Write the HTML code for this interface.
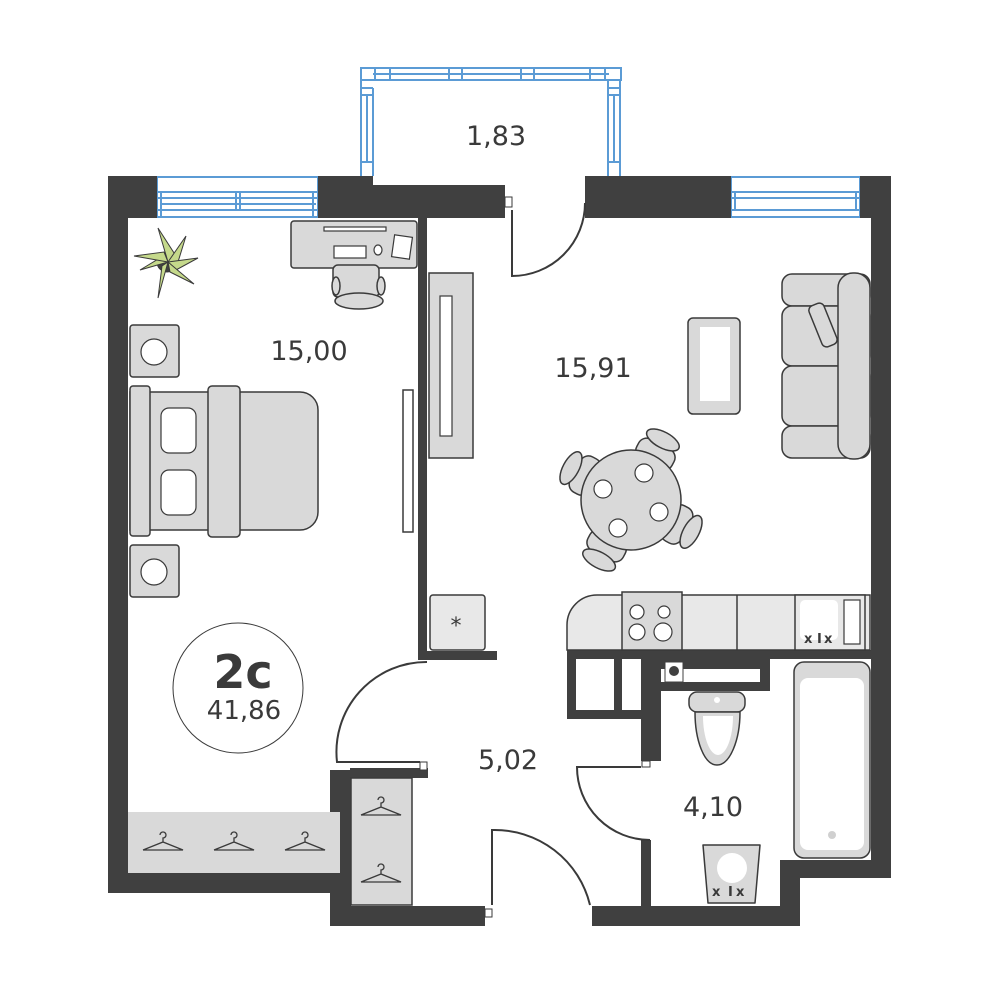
<!DOCTYPE html><html><head><meta charset="utf-8"><style>html,body{margin:0;padding:0;background:#fff}svg{display:block}text{font-family:"DejaVu Sans","Liberation Sans",sans-serif;fill:#3a3a3a}</style></head><body>
<svg width="1000" height="1000" viewBox="0 0 1000 1000" xmlns="http://www.w3.org/2000/svg">
<g fill="none" stroke="#5b9bd5" stroke-width="2">
<rect x="361" y="68" width="260" height="12"/><line x1="373" y1="74" x2="609" y2="74"/><line x1="373" y1="80" x2="609" y2="80"/>
<line x1="375" y1="68" x2="375" y2="80"/><line x1="390" y1="68" x2="390" y2="80"/><line x1="449" y1="68" x2="449" y2="80"/><line x1="462" y1="68" x2="462" y2="80"/><line x1="521" y1="68" x2="521" y2="80"/><line x1="534" y1="68" x2="534" y2="80"/><line x1="590" y1="68" x2="590" y2="80"/><line x1="605" y1="68" x2="605" y2="80"/>
<path d="M361 80V176M373 88V176M608 80V176M620 80V176M361 88H373M361 95H373M608 88H620M608 95H620M367 95V162M614 95V162M361 162H373M608 162H620"/>
<rect x="157" y="177" width="161" height="40"/><path d="M157 192H318M157 198H318M160 204H316M157 210H318M161 192V217M236 192V210M240 192V210M313 192V217"/>
<rect x="731" y="177" width="129" height="40"/><path d="M731 192H860M731 198H860M731 210H860M735 192V210M856 192V210"/>
</g>
<g fill="#404040">
<rect x="108" y="176" width="49" height="42"/><rect x="108" y="176" width="20" height="717"/><rect x="318" y="176" width="55" height="42"/><rect x="373" y="185" width="132" height="33"/>
<rect x="585" y="176" width="146" height="42"/><rect x="860" y="176" width="31" height="42"/><rect x="871" y="176" width="20" height="702"/>
<rect x="108" y="873" width="242" height="20"/><rect x="330" y="770" width="21" height="156"/><rect x="330" y="906" width="155" height="20"/><rect x="350" y="768" width="78" height="10"/>
<rect x="418" y="218" width="9" height="442"/><rect x="427" y="651" width="70" height="9"/>
<rect x="592" y="906" width="208" height="20"/><rect x="780" y="860" width="20" height="66"/><rect x="780" y="860" width="111" height="18"/>
<rect x="567" y="650" width="304" height="9"/><rect x="567" y="659" width="9" height="60"/><rect x="567" y="710" width="75" height="9"/><rect x="614" y="659" width="8" height="60"/>
<rect x="641" y="659" width="20" height="102"/><rect x="641" y="840" width="10" height="66"/><rect x="660" y="659" width="110" height="10"/><rect x="760" y="659" width="10" height="32"/><rect x="660" y="682" width="110" height="9"/>
</g>
<rect x="665" y="662" width="18" height="20" fill="#fff" stroke="#404040"/><circle cx="674" cy="671" r="5" fill="#404040"/><rect x="685" y="669" width="75" height="13" fill="#fff"/>
<g fill="none" stroke="#3a3a3a" stroke-width="2">
<path d="M512 210V276A73 73 0 0 0 585 203"/>
<path d="M420 762H337A90 90 0 0 1 427 662"/>
<path d="M492 905V830A98 98 0 0 1 590 905"/>
<path d="M641 767H577A73 73 0 0 0 650 840"/>
</g>
<rect x="505" y="197" width="7" height="10" fill="#fff" stroke="#3a3a3a"/><rect x="420" y="762" width="7" height="8" fill="#fff" stroke="#3a3a3a"/><rect x="485" y="909" width="7" height="8" fill="#fff" stroke="#3a3a3a"/><rect x="642" y="761" width="8" height="6" fill="#fff" stroke="#3a3a3a"/>
<g stroke="#3a3a3a" stroke-width="1.5" fill="#d9d9d9">
<rect x="291" y="221" width="126" height="47" rx="3"/><rect x="333" y="265" width="46" height="32" rx="5"/><ellipse cx="336" cy="286" rx="4" ry="9"/><ellipse cx="381" cy="286" rx="4" ry="9"/><ellipse cx="359" cy="301" rx="24" ry="8"/>
<rect x="130" y="325" width="49" height="52" rx="3"/><rect x="130" y="545" width="49" height="52" rx="3"/>
<path d="M130 392H300a18 18 0 0 1 18 18V512a18 18 0 0 1-18 18H130Z"/><rect x="130" y="386" width="20" height="150" rx="3"/><rect x="208" y="386" width="32" height="151" rx="4"/>
<rect x="429" y="273" width="44" height="185"/><rect x="403" y="390" width="10" height="142" fill="#fff"/>
<rect x="688" y="318" width="52" height="96" rx="5"/>
<rect x="782" y="274" width="88" height="32" rx="10"/><rect x="782" y="306" width="88" height="60" rx="10"/><rect x="782" y="366" width="88" height="60" rx="10"/><rect x="782" y="426" width="88" height="32" rx="10"/><rect x="838" y="273" width="32" height="186" rx="15"/>
<rect x="815" y="303" width="16" height="44" rx="5" transform="rotate(-22 823 325)"/>
<g transform="rotate(28 631 500)">
<rect x="611" y="437" width="40" height="22" rx="9"/><ellipse cx="631" cy="432" rx="18" ry="8"/>
<rect x="611" y="541" width="40" height="22" rx="9"/><ellipse cx="631" cy="568" rx="18" ry="8"/>
<rect x="568" y="480" width="22" height="40" rx="9"/><ellipse cx="563" cy="500" rx="8" ry="18"/>
<rect x="672" y="480" width="22" height="40" rx="9"/><ellipse cx="699" cy="500" rx="8" ry="18"/>
</g>
<circle cx="631" cy="500" r="50"/>
<rect x="430" y="595" width="55" height="55" rx="3" fill="#e8e8e8"/>
<rect x="128" y="812" width="212" height="61" stroke="none"/><rect x="351" y="778" width="61" height="127"/>
<path d="M567 650V625a30 30 0 0 1 30-30H870V650Z" fill="#e8e8e8"/><rect x="622" y="592" width="60" height="58"/><path d="M737 595V650" fill="none"/><rect x="795" y="595" width="70" height="55" fill="#e8e8e8"/>
<rect x="794" y="662" width="76" height="196" rx="10" fill="#d9d9d9"/>
<rect x="689" y="692" width="56" height="20" rx="8"/><path d="M695 712H740C740 740 730 765 717 765S695 740 695 712Z"/>
<path d="M703 845H760L755 903H708Z" stroke-linejoin="round"/>
</g>
<g fill="#fff" stroke="#3a3a3a" stroke-width="1.2">
<rect x="324" y="227" width="62" height="4"/><rect x="334" y="246" width="32" height="12"/><ellipse cx="378" cy="250" rx="4" ry="5"/><rect x="393" y="236" width="18" height="22" transform="rotate(8 402 247)"/>
<circle cx="154" cy="352" r="13"/><circle cx="154" cy="572" r="13"/>
<rect x="161" y="408" width="35" height="45" rx="8"/><rect x="161" y="470" width="35" height="45" rx="8"/>
<rect x="440" y="296" width="12" height="140"/>
<circle cx="644" cy="473" r="9"/><circle cx="603" cy="489" r="9"/><circle cx="659" cy="512" r="9"/><circle cx="618" cy="528" r="9"/>
<circle cx="637" cy="612" r="7"/><circle cx="664" cy="612" r="6"/><circle cx="637" cy="632" r="8"/><circle cx="663" cy="632" r="9"/>
<rect x="844" y="600" width="16" height="44"/>
</g>
<rect x="700" y="327" width="30" height="74" fill="#fff"/><rect x="800" y="600" width="38" height="40" rx="5" fill="#fff"/><rect x="800" y="678" width="64" height="172" rx="8" fill="#fff"/><circle cx="832" cy="835" r="4" fill="#d0d0d0"/>
<path d="M703 716H733C733 738 726 755 718 755S703 738 703 716Z" fill="#fff"/><circle cx="717" cy="700" r="3" fill="#fff"/><circle cx="732" cy="868" r="15" fill="#fff"/>
<text x="456" y="633" font-size="22" text-anchor="middle">*</text>
<g fill="none" stroke="#3a3a3a" stroke-width="1.3">
<path d="M143 850l20-8 20 8H143M163 842v-4a3 3 0 1 0-3-3"/><path d="M214 850l20-8 20 8H214M234 842v-4a3 3 0 1 0-3-3"/><path d="M285 850l20-8 20 8H285M305 842v-4a3 3 0 1 0-3-3"/>
<path d="M361 815l20-8 20 8H361M381 807v-4a3 3 0 1 0-3-3"/><path d="M361 882l20-8 20 8H361M381 874v-4a3 3 0 1 0-3-3"/>
</g>
<g fill="#c5d98b" stroke="#3a3a3a" stroke-width="1">
<circle cx="167" cy="262" r="10" fill="#404040"/>
<path d="M168 262L158 228L176 256Z"/><path d="M168 262L186 236L178 262Z"/><path d="M168 262L198 258L176 270Z"/><path d="M168 262L194 284L170 272Z"/><path d="M168 262L158 298L162 266Z"/><path d="M168 262L140 270L160 258Z"/><path d="M168 262L134 256L164 252Z"/>
</g>
<g fill="#404040" font-weight="bold" font-size="13"><text x="804" y="643">x</text><text x="817" y="643">I</text><text x="824" y="643">x</text><text x="712" y="896">x</text><text x="728" y="896">I</text><text x="736" y="896">x</text></g>
<circle cx="238" cy="688" r="65" fill="none" stroke="#3a3a3a" stroke-width="1"/>
<text x="243" y="688" font-size="46" font-weight="bold" text-anchor="middle">2с</text>
<text x="244" y="719" font-size="26" text-anchor="middle">41,86</text>
<text x="496" y="145" font-size="27" text-anchor="middle">1,83</text>
<text x="309" y="360" font-size="27" text-anchor="middle">15,00</text>
<text x="593" y="377" font-size="27" text-anchor="middle">15,91</text>
<text x="508" y="769" font-size="27" text-anchor="middle">5,02</text>
<text x="713" y="816" font-size="27" text-anchor="middle">4,10</text>
</svg></body></html>
